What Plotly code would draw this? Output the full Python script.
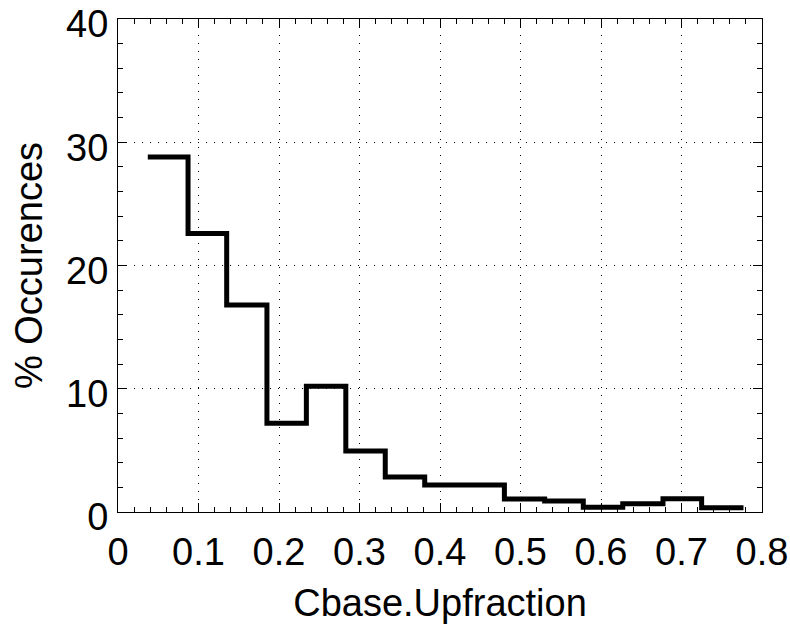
import plotly.graph_objects as go

# Bin edges (x) and % occurrences per bin
bin_edges = [0.037, 0.087, 0.135, 0.185, 0.234, 0.283, 0.332, 0.381,
             0.431, 0.480, 0.530, 0.578, 0.627, 0.677, 0.725, 0.777]
occurrences = [28.8, 22.6, 16.8, 7.2, 10.2, 4.95, 2.84, 2.2,
               2.2, 1.05, 0.89, 0.38, 0.67, 1.08, 0.35]

x_tickvals = [0, 0.1, 0.2, 0.3, 0.4, 0.5, 0.6, 0.7, 0.8]
x_ticktext = ["0", "0.1", "0.2", "0.3", "0.4", "0.5", "0.6", "0.7", "0.8"]
y_tickvals = [0, 10, 20, 30, 40]
y_ticktext = ["0", "10", "20", "30", "40"]

x_title = "Cbase.Upfraction"
y_title = "% Occurences"

FONT = "Liberation Sans, Arial, Helvetica, sans-serif"
FSIZE = 38

fig = go.Figure()
fig.add_trace(go.Scatter(
    x=bin_edges,
    y=occurrences + [occurrences[-1]],
    mode="lines",
    line=dict(shape="hv", color="black", width=5),
    showlegend=False,
))

axis_common = dict(
    showline=True, linecolor="black", linewidth=1, mirror="ticks",
    ticks="inside", ticklen=9, tickwidth=1, tickcolor="black",
    showgrid=True, gridcolor="black", gridwidth=1, griddash="1px,7px",
    zeroline=False, automargin=False,
    ticklabeloverflow="allow",
    tickfont=dict(family=FONT, size=FSIZE, color="black"),
)

fig.update_xaxes(
    range=[0, 0.8], tickmode="array", tickvals=x_tickvals, ticktext=x_ticktext,
    minor=dict(ticks="inside", ticklen=5, dtick=0.02, tick0=0, tickcolor="black", showgrid=False),
    title=dict(text=x_title, font=dict(family=FONT, size=FSIZE, color="black"), standoff=17),
    ticklabelstandoff=6,
    **axis_common,
)
fig.update_yaxes(
    range=[0, 40], tickmode="array", tickvals=y_tickvals, ticktext=y_ticktext,
    minor=dict(ticks="inside", ticklen=5, dtick=2, tick0=0, tickcolor="black", showgrid=False),
    title=dict(text=y_title, font=dict(family=FONT, size=FSIZE, color="black"), standoff=11),
    ticklabelstandoff=1, ticklabelshift=5,
    **axis_common,
)

fig.update_layout(
    width=790, height=631,
    margin=dict(l=118, r=28, t=19, b=119),
    paper_bgcolor="white", plot_bgcolor="white",
    font=dict(family=FONT, color="black"),
)

fig.write_html("out.html")
